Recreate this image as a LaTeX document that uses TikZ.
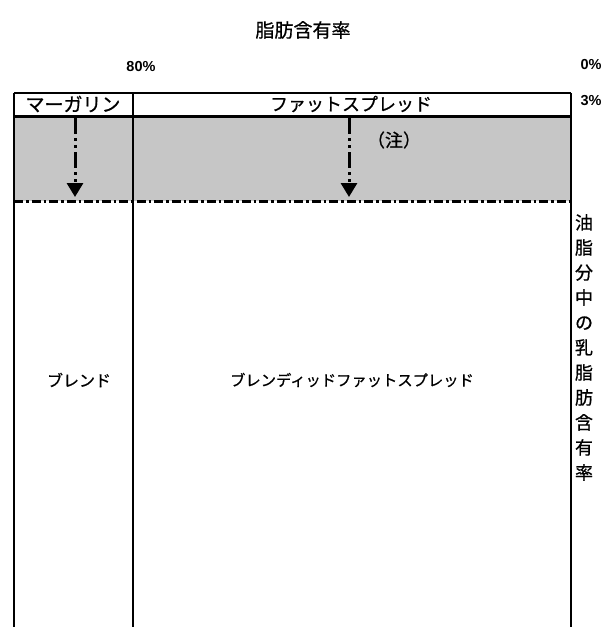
\documentclass[tikz,border=0pt]{standalone}
\usepackage{fontspec}
\setmainfont{Liberation Sans}
\newfontfamily\jp{Noto Sans CJK JP}[FakeBold=0.7]
\usetikzlibrary{arrows.meta}
\begin{document}
\begin{tikzpicture}[x=1pt,y=-1pt,
  jplabel/.style={font=\jp\fontsize{17}{20}\selectfont, inner sep=0pt},
  numlabel/.style={font=\bfseries\fontsize{14.5}{16}\selectfont, inner sep=0pt},
  frame/.style={line width=1.8pt, black},
  dashdot/.style={line width=3pt, dash pattern=on 9pt off 3pt on 2.5pt off 3pt},
  downarrow/.style={line width=3pt, dash pattern=on 16pt off 4pt on 3pt off 4pt on 3pt off 4pt,
     -{Triangle[width=16pt,length=14pt]}}]
\useasboundingbox (0,0) rectangle (614,627);
% grey band
\fill[gray!45] (14,116) rectangle (571,201);
% frame
\coordinate (tl) at (14,93);
\coordinate (tr) at (571,93);
\coordinate (tm) at (133,93);
\coordinate (bl) at (14,627);
\coordinate (br) at (571,627);
\coordinate (bm) at (133,627);
\coordinate (hl) at (14,116);
\coordinate (hr) at (571,116);
\coordinate (dl) at (14,201);
\coordinate (dr) at (571,201);
\draw[frame] (tl) -- (tr);
\draw[frame] (tl) -- (bl);
\draw[frame] (tr) -- (br);
\draw[frame, line width=1.5pt] (tm) -- (bm);
\draw[line width=3pt] (hl) -- (hr);
\draw[dashdot] (dl) -- (dr);
% arrows
\coordinate (a1s) at (75,118);
\coordinate (a1e) at (75,197);
\coordinate (a2s) at (349,118);
\coordinate (a2e) at (349,197);
\draw[downarrow] (a1s) -- (a1e);
\draw[downarrow] (a2s) -- (a2e);
% labels
\node[jplabel, font=\jp\fontsize{19}{20}\selectfont] (title) at (303,30) {脂肪含有率};
\node[numlabel] (p80) at (141,67) {80\%};
\node[numlabel] (p0) at (591,65) {0\%};
\node[numlabel] (p3) at (591,101) {3\%};
\node[jplabel, font=\jp\fontsize{19}{20}\selectfont] (marg) at (73,104) {マーガリン};
\node[jplabel, font=\jp\fontsize{18}{20}\selectfont] (fat) at (351,104) {ファットスプレッド};
\node[jplabel, font=\jp\fontsize{18}{20}\selectfont] (note) at (394,140) {（注）};
\node[jplabel, font=\jp\fontsize{16}{20}\selectfont] (blend) at (79,380) {ブレンド};
\node[jplabel, font=\jp\fontsize{15.3}{20}\selectfont] (bfs) at (352,380) {ブレンディッドファットスプレッド};
\node[jplabel, align=center, anchor=north, font=\jp\fontsize{18}{25}\selectfont] (vert) at (584,214)
  {油\\脂\\分\\中\\の\\乳\\脂\\肪\\含\\有\\率};
\end{tikzpicture}
\end{document}
